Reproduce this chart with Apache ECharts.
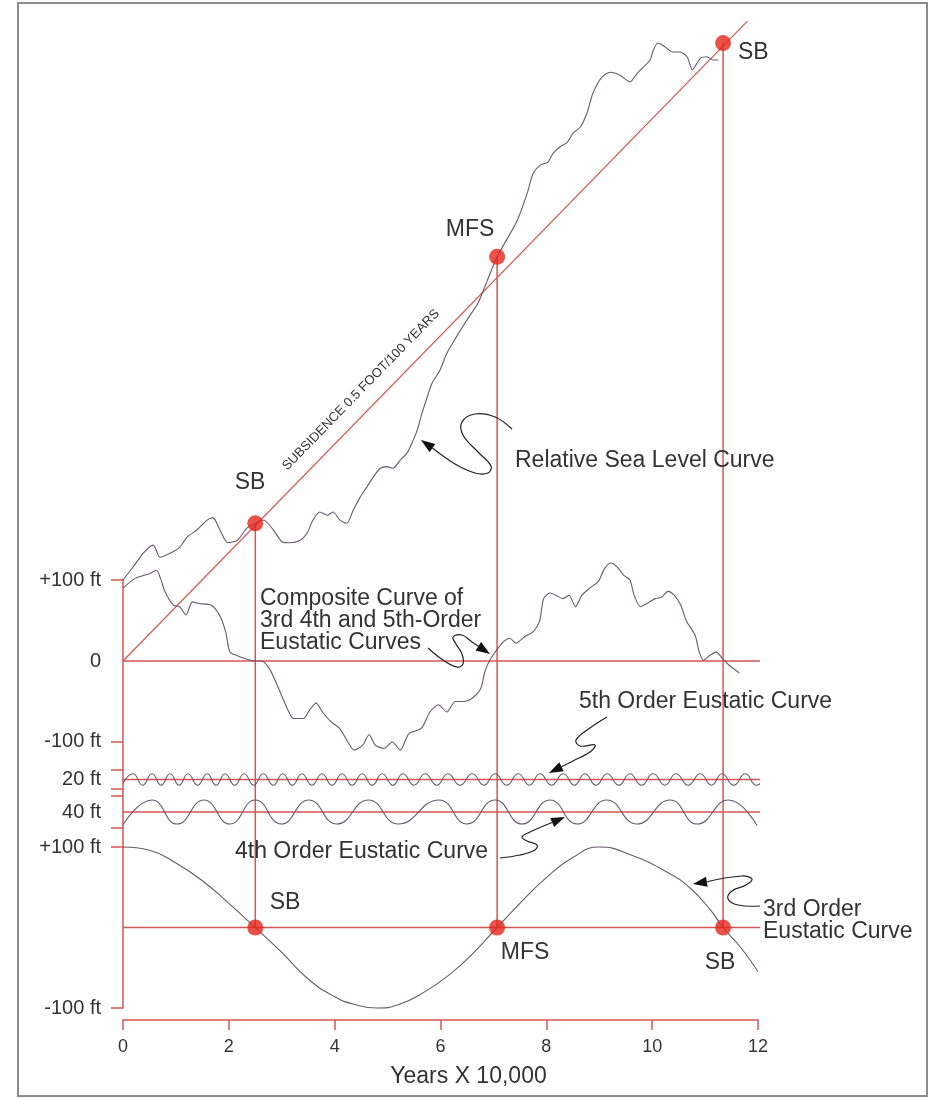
<!DOCTYPE html>
<html lang="en">
<head>
<meta charset="utf-8">
<title>Eustatic and relative sea level curves</title>
<script src="https://cdn.jsdelivr.net/npm/echarts@6/dist/echarts.min.js"></script>
<style>
  body { margin: 0; background: #fff; }
  #main { width: 932px; height: 1099px; }
</style>
</head>
<body>
<div id="main"></div>
<script>
// ---- data (x in years x 10,000, y in ft) ----
var xTicks = [0, 2, 4, 6, 8, 10, 12];

// composite curve of 3rd, 4th and 5th order eustatic curves
var compX = [0, 0.23, 0.51, 0.63, 0.71, 0.79, 0.95, 1.07, 1.19, 1.31, 1.43, 1.66, 1.82, 1.94, 2.02, 2.14, 2.30, 2.50, 2.62, 2.78, 2.94, 3.10, 3.22, 3.41, 3.53, 3.65, 3.77, 3.93, 4.09, 4.25, 4.37, 4.53, 4.65, 4.77, 4.93, 5.09, 5.24, 5.40, 5.64, 5.80, 5.96, 6.12, 6.28, 6.44, 6.60, 6.76, 6.84, 6.95, 7.19, 7.31, 7.43, 7.59, 7.75, 7.87, 7.95, 8.07, 8.19, 8.31, 8.43, 8.55, 8.67, 8.82, 8.98, 9.10, 9.22, 9.34, 9.46, 9.58, 9.66, 9.78, 9.90, 10.06, 10.18, 10.30, 10.42, 10.54, 10.65, 10.81, 10.89, 10.97, 11.09, 11.21, 11.33, 11.45, 11.65];
var compY = [90, 102, 108, 112, 102, 86, 69, 67, 57, 73, 71, 69, 57, 36, 11, 7, 3, 0, 0, -11, -34, -58, -71, -71, -60, -52, -63, -75, -83, -100, -110, -104, -91, -104, -108, -100, -110, -90, -83, -63, -54, -63, -50, -50, -46, -34, -13, 3, 24, 28, 22, 30, 36, 49, 77, 84, 81, 77, 81, 67, 81, 90, 98, 114, 121, 116, 106, 100, 81, 67, 71, 77, 79, 86, 81, 69, 49, 32, 11, 1, 7, 11, 3, -5, -15];

// relative sea level curve
var rslX = [0, 0.19, 0.38, 0.57, 0.70, 0.89, 1.08, 1.21, 1.40, 1.59, 1.70, 1.83, 1.98, 2.16, 2.34, 2.50, 2.65, 2.84, 3.01, 3.16, 3.35, 3.48, 3.59, 3.72, 3.86, 3.97, 4.10, 4.23, 4.35, 4.48, 4.61, 4.73, 4.86, 4.99, 5.10, 5.24, 5.37, 5.46, 5.56, 5.65, 5.75, 5.84, 5.99, 6.12, 6.28, 6.43, 6.56, 6.71, 6.88, 7.07, 7.45, 7.64, 7.75, 7.88, 8.03, 8.13, 8.26, 8.39, 8.51, 8.64, 8.77, 8.88, 9.05, 9.21, 9.40, 9.58, 9.72, 9.83, 9.96, 10.02, 10.11, 10.25, 10.38, 10.53, 10.66, 10.76, 10.91, 11.04, 11.15, 11.25];
var rslY = [100, 116, 133, 143, 128, 133, 141, 153, 162, 174, 177, 162, 146, 149, 164, 170, 174, 162, 147, 146, 149, 158, 174, 184, 180, 184, 174, 170, 186, 202, 215, 227, 238, 240, 238, 248, 257, 269, 285, 306, 326, 343, 359, 380, 398, 414, 427, 442, 469, 499, 544, 578, 602, 612, 616, 627, 635, 640, 652, 659, 677, 701, 721, 727, 723, 715, 726, 733, 742, 754, 763, 758, 752, 752, 746, 730, 744, 746, 742, 742];

// subsidence line, 0.5 ft / 100 years
var subsidenceX = [0, 11.8];
var subsidenceY = [0, 790];

// sequence boundaries and maximum flooding surface
var eventX = [2.5, 7.07, 11.34];
var eventRslY = [170, 499, 763];

// 5th order eustatic curve
var fifthX = [0, 0.19, 0.37, 0.55, 0.72, 0.89, 1.06, 1.23, 1.41, 1.59, 1.76, 1.93, 2.11, 2.29, 2.47, 2.65, 2.84, 3.02, 3.20, 3.38, 3.57, 3.76, 3.95, 4.14, 4.33, 4.52, 4.71, 4.90, 5.10, 5.29, 5.50, 5.71, 5.93, 6.14, 6.37, 6.60, 6.82, 7.03, 7.25, 7.47, 7.68, 7.88, 8.10, 8.32, 8.53, 8.73, 8.94, 9.15, 9.37, 9.58, 9.80, 10.02, 10.24, 10.45, 10.68, 10.91, 11.12, 11.32, 11.54, 11.76, 11.97, 12.1];
var fifthY = [-4, 6, -6, 6, -6, 6, -6, 6, -6, 6, -6, 6, -6, 6, -6, 6, -6, 6, -6, 6, -6, 6, -6, 6, -6, 6, -6, 6, -6, 6, -6, 6, -6, 6, -6, 6, -6, 6, -6, 6, -6, 6, -6, 6, -6, 6, -6, 6, -6, 6, -6, 6, -6, 6, -6, 6, -6, 6, -6, 6, -6, -1];

// 4th order eustatic curve
var fourthX = [0, 0.55, 1.02, 1.53, 2.02, 2.50, 2.99, 3.51, 4.04, 4.64, 5.20, 5.97, 6.50, 7.03, 7.54, 8.07, 8.58, 9.14, 9.71, 10.34, 10.85, 11.44, 11.98];
var fourthY = [-16, 15, -15, 15, -15, 15, -15, 15, -15, 15, -15, 15, -15, 15, -15, 15, -15, 15, -15, 15, -15, 15, -17];

// 3rd order eustatic curve
var thirdX = [0, 0.5, 1.0, 1.5, 2.0, 2.5, 3.0, 3.5, 4.0, 4.4, 4.8, 5.2, 5.7, 6.2, 6.6, 7.07, 7.5, 8.0, 8.5, 9.0, 9.6, 10.3, 10.7, 11.1, 11.34, 11.7, 12.0];
var thirdY = [100, 96, 80, 58, 30, 0, -31, -64, -86, -96, -100, -96, -80, -57, -33, 0, 30, 62, 87, 100, 90, 68, 50, 22, 0, -27, -55];

// ---- chart ----
var RED = '#d95550';
var DOT = '#e3261c';
var CURVE = '#6a586e';
var TXT = '#333333';
var FONT = '"Liberation Sans", Arial, sans-serif';

function pairs(xs, ys) {
    var res = [];
    for (var i = 0; i < xs.length; i++) res.push([xs[i], ys[i]]);
    return res;
}

// panel y ranges (top panel, 5th, 4th, 3rd order)
var panelMin = [-134.6, -10, -43.75, -100];
var panelMax = [100, 10, 28.75, 100];
var grids = [
    { left: 123, width: 635, top: 580, height: 190 },
    { left: 123, width: 635, top: 770, height: 19 },
    { left: 123, width: 635, top: 789, height: 58 },
    { left: 123, width: 635, top: 847, height: 161 }
];

var xAxes = [], yAxes = [];
for (var g = 0; g < 4; g++) {
    xAxes.push({
        gridIndex: g, type: 'value', min: 0, max: 12, show: g === 3,
        splitLine: { show: false }
    });
    yAxes.push({
        gridIndex: g, type: 'value', min: panelMin[g], max: panelMax[g],
        splitLine: { show: false },
        axisLine: { show: true, onZero: false, lineStyle: { color: RED, width: 1.5 } },
        axisTick: { show: true, length: 12, lineStyle: { color: RED, width: 1.5 } },
        axisLabel: { color: TXT, fontSize: 20, fontFamily: FONT, margin: 22 }
    });
}
// tick marks and labels of each panel
yAxes[0].axisTick.customValues = [100, -100];
yAxes[0].axisLabel.customValues = [100, 0, -100];
yAxes[0].axisLabel.formatter = function (v) { return v > 0 ? '+100 ft' : (v < 0 ? '-100 ft' : '0'); };
yAxes[1].axisTick.customValues = [10, -10];
yAxes[1].axisLabel.customValues = [0];
yAxes[1].axisLabel.formatter = function () { return '20 ft'; };
yAxes[2].axisTick.customValues = [20, -20];
yAxes[2].axisLabel.customValues = [0];
yAxes[2].axisLabel.formatter = function () { return '40 ft'; };
yAxes[3].axisTick.customValues = [100, -100];
yAxes[3].axisLabel.customValues = [100, -100];
yAxes[3].axisLabel.formatter = function (v) { return v > 0 ? '+100 ft' : '-100 ft'; };

// bottom x axis
Object.assign(xAxes[3], {
    interval: 2,
    offset: 12,
    name: 'Years X 10,000',
    nameLocation: 'middle',
    nameGap: 45,
    nameTextStyle: { color: TXT, fontSize: 23, fontFamily: FONT, padding: [0, 0, 0, 56] },
    axisLine: { show: true, onZero: false, lineStyle: { color: RED, width: 1.5 } },
    axisTick: { show: true, length: 10, lineStyle: { color: RED, width: 1.5 } },
    axisLabel: { color: TXT, fontSize: 18, fontFamily: FONT, margin: 18,
        customValues: xTicks }
});

function line(g, data, color, width, smooth) {
    return {
        type: 'line', xAxisIndex: g, yAxisIndex: g, data: data,
        showSymbol: false, symbol: 'none', smooth: smooth || false, clip: false,
        silent: true, lineStyle: { color: color, width: width }
    };
}

var series = [];
// zero / reference lines
series.push(line(0, [[0, 0], [12.08, 0]], RED, 1.5));
series.push(line(1, [[0, 0], [12.12, 0]], RED, 1.5));
series.push(line(2, [[0, 0], [12.12, 0]], RED, 1.5));
series.push(line(3, [[0, 0], [12.1, 0]], RED, 1.5));
series.push(line(0, pairs(subsidenceX, subsidenceY), RED, 1.2));

// vertical lines from the events down to the 3rd order curve
for (var i = 0; i < eventX.length; i++) {
    series.push(line(0, [[eventX[i], eventRslY[i]], [eventX[i], panelMin[0]]], RED, 1.5));
    series.push(line(1, [[eventX[i], panelMax[1]], [eventX[i], panelMin[1]]], RED, 1.5));
    series.push(line(2, [[eventX[i], panelMax[2]], [eventX[i], panelMin[2]]], RED, 1.5));
    series.push(line(3, [[eventX[i], panelMax[3]], [eventX[i], 0]], RED, 1.5));
}

// curves
series.push(line(0, pairs(compX, compY), CURVE, 1.1, 0.25));
series.push(line(0, pairs(rslX, rslY), CURVE, 1.1, 0.25));
series.push(line(1, pairs(fifthX, fifthY), CURVE, 1.1, 0.5));
series.push(line(2, pairs(fourthX, fourthY), CURVE, 1.1, 0.5));
series.push(line(3, pairs(thirdX, thirdY), CURVE, 1.1, 0.5));

// event dots
series.push({
    type: 'scatter', xAxisIndex: 0, yAxisIndex: 0, clip: false, silent: true, z: 5,
    symbolSize: 16, itemStyle: { color: DOT },
    data: pairs(eventX, eventRslY)
});
series.push({
    type: 'scatter', xAxisIndex: 3, yAxisIndex: 3, clip: false, silent: true, z: 5,
    symbolSize: 16, itemStyle: { color: DOT },
    data: eventX.map(function (x) { return [x, 0]; })
});

// ---- annotations ----
function text(x, y, str, size, align, extra) {
    var el = {
        type: 'text', x: x, y: y, silent: true, z: 10,
        style: { text: str, fill: TXT, fontSize: size || 23, fontFamily: FONT,
            textAlign: align || 'left', textVerticalAlign: 'middle', lineHeight: 22 }
    };
    if (extra) Object.assign(el, extra);
    return el;
}

function arrow(pts) {
    var n = pts.length, tip = pts[n - 1], prev = pts[n - 2];
    var dx = tip[0] - prev[0], dy = tip[1] - prev[1];
    var L = Math.sqrt(dx * dx + dy * dy), ux = dx / L, uy = dy / L;
    var bx = tip[0] - ux * 14, by = tip[1] - uy * 14;
    return [
        { type: 'polyline', silent: true, z: 10,
          shape: { points: pts.slice(0, n - 1).concat([[bx, by]]), smooth: 0.4 },
          style: { stroke: '#222', lineWidth: 1.2, fill: null } },
        { type: 'polygon', silent: true, z: 10,
          shape: { points: [tip, [bx - uy * 5, by + ux * 5], [bx + uy * 5, by - ux * 5]] },
          style: { fill: '#111' } }
    ];
}

var graphics = [
    { type: 'rect', silent: true, shape: { x: 18, y: 3, width: 909, height: 1093 },
      style: { fill: null, stroke: '#8c8c8c', lineWidth: 2 } },
    text(250, 483, 'SB', 23, 'center'),
    text(470, 230, 'MFS', 23, 'center'),
    text(738, 53, 'SB', 23, 'left'),
    text(285, 903, 'SB', 23, 'center'),
    text(525, 953, 'MFS', 23, 'center'),
    text(720, 963, 'SB', 23, 'center'),
    text(361, 390, 'SUBSIDENCE 0.5 FOOT/100 YEARS', 13, 'center', { rotation: 0.798 }),
    text(515, 461, 'Relative Sea Level Curve'),
    text(260, 621, 'Composite Curve of\n3rd 4th and 5th-Order\nEustatic Curves'),
    text(579, 702, '5th Order Eustatic Curve'),
    text(235, 852, '4th Order Eustatic Curve'),
    text(763, 921, '3rd Order\nEustatic Curve')
];
graphics = graphics
    .concat(arrow([[512, 429], [495, 417], [475, 414], [462, 422], [463, 435], [478, 452], [491, 466], [488, 473], [475, 473], [455, 464], [421, 440]]))
    .concat(arrow([[428, 648], [443, 660], [457, 667], [463, 664], [462, 654], [456, 644], [453, 637], [462, 635], [472, 642], [490, 654]]))
    .concat(arrow([[607, 717], [590, 728], [576, 740], [580, 746], [595, 745], [590, 752], [573, 761], [549, 773]]))
    .concat(arrow([[500, 858], [520, 855], [535, 850], [537, 845], [527, 841], [522, 837], [530, 832], [565, 817]]))
    .concat(arrow([[760, 906], [738, 905], [728, 899], [732, 891], [746, 885], [752, 879], [742, 876], [693, 884]]));

var myChart = echarts.init(document.getElementById('main'));
myChart.setOption({
    animation: false,
    backgroundColor: '#ffffff',
    grid: grids,
    xAxis: xAxes,
    yAxis: yAxes,
    series: series,
    graphic: graphics
});
</script>
</body>
</html>
